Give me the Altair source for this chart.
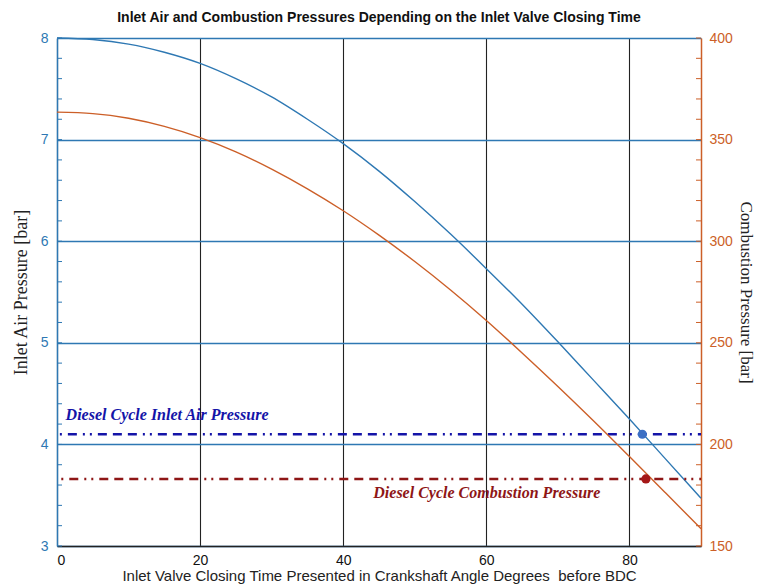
import altair as alt
import pandas as pd

# ---- data ----
angle = [0, 5, 10, 15, 20, 25, 30, 35, 40, 45, 50, 55, 60, 65, 70, 75, 80, 85, 90]
inlet_air = [8.00, 7.985, 7.94, 7.86, 7.75, 7.60, 7.42, 7.20, 6.96, 6.69, 6.39,
             6.07, 5.73, 5.38, 5.01, 4.63, 4.25, 3.86, 3.47]
combustion = [363.5, 362.8, 360.5, 356.5, 351.0, 344.0, 335.5, 325.8, 315.0, 303.0, 290.0,
              276.0, 261.0, 245.0, 228.5, 211.5, 194.0, 176.3, 158.5]

air_ref_x = [0.4, 90]
air_ref_y = [4.1, 4.1]
comb_ref_x = [0.6, 90]
comb_ref_y = [183, 183]
air_point = {"x": [81.8], "y": [4.1]}
comb_point = {"x": [82.3], "y": [183]}

air_label = {"x": [1.2], "y": [4.24], "t": ["Diesel Cycle Inlet Air Pressure"]}
comb_label = {"x": [44.2], "y": [173.5], "t": ["Diesel Cycle Combustion Pressure"]}

left_minor = [round(3 + 0.2 * i, 1) for i in range(26)]
right_minor = [150 + 10 * i for i in range(26)]

title = "Inlet Air and Combustion Pressures Depending on the Inlet Valve Closing Time"
x_title = "Inlet Valve Closing Time Presented in Crankshaft Angle Degrees \u00a0before BDC"

# ---- colours ----
BLUE = "#2e78b3"
ORANGE = "#cc5f28"
DBLUE = "#1414a8"
DRED = "#8e1616"

W, H = 644, 508

curve_df = pd.DataFrame({"x": angle, "air": inlet_air, "comb": combustion})

x_scale = alt.Scale(domain=[0, 90], nice=False, zero=False)
x_axis = alt.Axis(values=[0, 20, 40, 60, 80], title=x_title, grid=True,
                  gridColor="#222222", gridWidth=1.1, gridOpacity=1,
                  domainColor="#222222", domainWidth=1.5, ticks=False,
                  labelFont="Liberation Sans", labelFontSize=14, labelColor="#111111",
                  labelPadding=7, titleFont="Liberation Sans", titleFontSize=15,
                  titleFontWeight="normal", titleColor="#222222", titlePadding=1)


def xe():
    return alt.X("x:Q", scale=x_scale, axis=x_axis)


left_scale = alt.Scale(domain=[3, 8], nice=False, zero=False)
right_scale = alt.Scale(domain=[150, 400], nice=False, zero=False)

left_axis = alt.Axis(orient="left", values=[3, 4, 5, 6, 7, 8], title="Inlet Air Pressure [bar]",
                     grid=True, gridColor=BLUE, gridWidth=1.3, gridOpacity=1,
                     domainColor=BLUE, domainWidth=1.5, ticks=False,
                     labelFont="Liberation Sans", labelFontSize=14, labelColor=BLUE,
                     labelPadding=9, titleFont="Liberation Serif", titleFontSize=18,
                     titleFontWeight="normal", titleColor="#222222", titlePadding=10)
right_axis = alt.Axis(orient="right", values=[150, 200, 250, 300, 350, 400],
                      title="Combustion Pressure [bar]", grid=False,
                      domainColor=ORANGE, domainWidth=1.5, ticks=False,
                      labelFont="Liberation Sans", labelFontSize=14, labelColor=ORANGE,
                      labelPadding=8, titleFont="Liberation Serif", titleFontSize=17,
                      titleFontWeight="normal", titleColor="#222222", titlePadding=4,
                      titleAngle=90)

DASH = [9, 6, 9, 6, 9, 6, 2, 5, 2, 6]

# ---- left (inlet air) group ----
air_curve = alt.Chart(curve_df).mark_line(color=BLUE, strokeWidth=1.4, interpolate="monotone").encode(
    x=xe(), y=alt.Y("air:Q", scale=left_scale, axis=left_axis))
air_ref = alt.Chart(pd.DataFrame({"x": air_ref_x, "air": air_ref_y})).mark_line(
    color=DBLUE, strokeWidth=2.6, strokeDash=DASH, strokeDashOffset=22).encode(
    x=xe(), y=alt.Y("air:Q", scale=left_scale, axis=left_axis))
air_pt = alt.Chart(pd.DataFrame({"x": air_point["x"], "air": air_point["y"]})).mark_circle(
    color="#3a6fc4", size=85, opacity=1).encode(
    x=xe(), y=alt.Y("air:Q", scale=left_scale, axis=left_axis))
air_txt = alt.Chart(pd.DataFrame({"x": air_label["x"], "air": air_label["y"], "t": air_label["t"]})).mark_text(
    align="left", baseline="alphabetic", font="Liberation Serif", fontSize=16,
    fontStyle="italic", fontWeight="bold", color=DBLUE).encode(
    x=xe(), y=alt.Y("air:Q", scale=left_scale, axis=left_axis), text="t:N")
air_minor = alt.Chart(pd.DataFrame({"air": left_minor})).mark_rule(color=BLUE, strokeWidth=1).encode(
    x=alt.value(0), x2=alt.value(5), y=alt.Y("air:Q", scale=left_scale, axis=left_axis))

left = alt.layer(air_curve, air_minor, air_ref, air_pt, air_txt)

# ---- right (combustion) group ----
comb_curve = alt.Chart(curve_df).mark_line(color=ORANGE, strokeWidth=1.4, interpolate="monotone").encode(
    x=xe(), y=alt.Y("comb:Q", scale=right_scale, axis=right_axis))
comb_ref = alt.Chart(pd.DataFrame({"x": comb_ref_x, "comb": comb_ref_y})).mark_line(
    color=DRED, strokeWidth=2.6, strokeDash=DASH, strokeDashOffset=22).encode(
    x=xe(), y=alt.Y("comb:Q", scale=right_scale, axis=right_axis))
comb_pt = alt.Chart(pd.DataFrame({"x": comb_point["x"], "comb": comb_point["y"]})).mark_circle(
    color="#a51717", size=85, opacity=1).encode(
    x=xe(), y=alt.Y("comb:Q", scale=right_scale, axis=right_axis))
comb_txt = alt.Chart(pd.DataFrame({"x": comb_label["x"], "comb": comb_label["y"], "t": comb_label["t"]})).mark_text(
    align="left", baseline="alphabetic", font="Liberation Serif", fontSize=16,
    fontStyle="italic", fontWeight="bold", color=DRED).encode(
    x=xe(), y=alt.Y("comb:Q", scale=right_scale, axis=right_axis), text="t:N")
comb_minor = alt.Chart(pd.DataFrame({"comb": right_minor})).mark_rule(color=ORANGE, strokeWidth=1).encode(
    x=alt.value(W - 5), x2=alt.value(W), y=alt.Y("comb:Q", scale=right_scale, axis=right_axis))

right = alt.layer(comb_curve, comb_minor, comb_ref, comb_pt, comb_txt)

chart = alt.layer(left, right).resolve_scale(y="independent").properties(
    width=W, height=H,
    title=alt.TitleParams(title, font="Liberation Sans", fontSize=14, fontWeight="bold",
                          color="#111111", anchor="middle", offset=6),
    autosize=alt.AutoSizeParams(type="none"),
    padding={"left": 49, "top": 30, "right": 55, "bottom": 40},
).configure_view(stroke="#1d2f4d", strokeWidth=1.5).configure(background="white")

chart.save("out.html", embed_options={"renderer": "svg", "actions": False})
